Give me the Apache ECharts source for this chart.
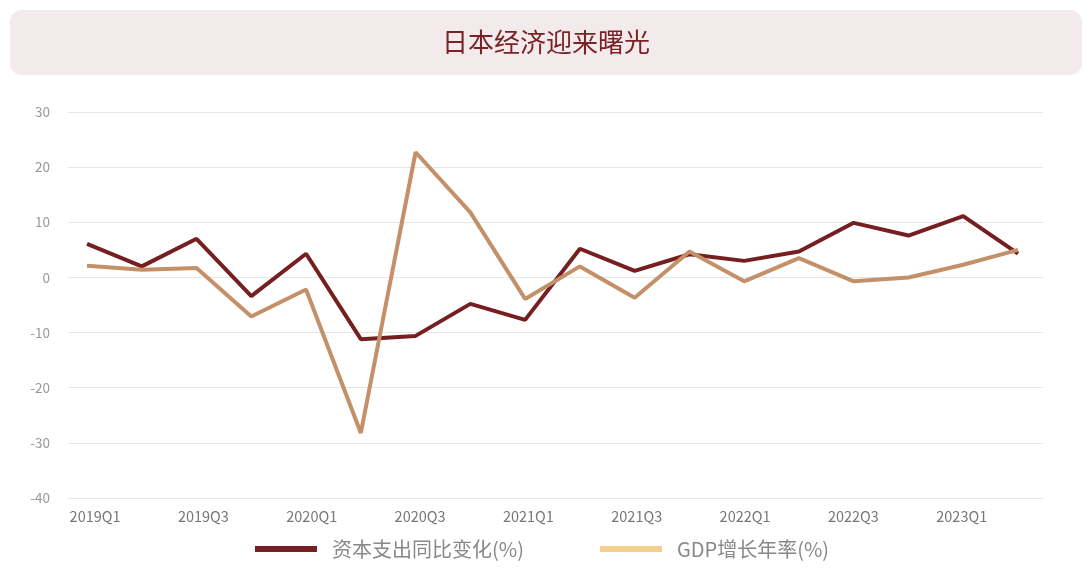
<!DOCTYPE html>
<html>
<head>
<meta charset="utf-8">
<script src="https://cdn.jsdelivr.net/npm/echarts@6/dist/echarts.min.js"></script>
<style>
  html, body { margin: 0; padding: 0; background: #fff; }
  #main { width: 1092px; height: 569px; }
</style>
</head>
<body>
<div id="main"></div>
<script>
// 季度
var quarters = ['2019Q1', '2019Q2', '2019Q3', '2019Q4', '2020Q1', '2020Q2', '2020Q3', '2020Q4',
  '2021Q1', '2021Q2', '2021Q3', '2021Q4', '2022Q1', '2022Q2', '2022Q3', '2022Q4', '2023Q1', '2023Q2'];
// 资本支出同比变化
var capex = [6.1, 2.0, 7.0, -3.4, 4.3, -11.2, -10.6, -4.8, -7.7, 5.2, 1.2, 4.2, 3.0, 4.7, 9.9, 7.6, 11.1, 4.3];
// GDP增长年率
var gdp = [2.1, 1.4, 1.7, -7.1, -2.2, -28.2, 22.7, 11.8, -3.9, 2.0, -3.7, 4.7, -0.7, 3.5, -0.7, 0.0, 2.3, 5.0];

var seriesNames = ['资本支出同比变化(%)', 'GDP增长年率(%)'];
var yMin = -40, yMax = 30, yStep = 10;

var font = '"Noto Sans CJK SC", "Noto Sans", sans-serif';
var myChart = echarts.init(document.getElementById('main'));

var option = {
	backgroundColor: '#fff',
	textStyle: { fontFamily: font },
	graphic: [{
		type: 'rect',
		left: 10, top: 10,
		shape: { width: 1072, height: 65, r: 12 },
		style: { fill: '#f3ebeb' },
		z: 0
	}],
	title: {
		text: '日本经济迎来曙光',
		left: 'center',
		top: 24,
		textStyle: { color: '#7a2326', fontSize: 26, fontWeight: 'normal', fontFamily: font }
	},
	legend: {
		left: 250,
		top: 534,
		icon: 'rect',
		itemWidth: 62,
		itemHeight: 6,
		itemGap: 76,
		textStyle: { color: '#888', fontSize: 20, padding: [0, 0, 0, 10], fontFamily: font },
		data: [
			{ name: seriesNames[0], itemStyle: { color: '#761f21' } },
			{ name: seriesNames[1], itemStyle: { color: '#f4cf90' } }
		]
	},
	grid: [
		{ left: 68, right: 49, top: 112, bottom: 71 },
		{ left: 87, right: 74, top: 112, bottom: 71 }
	],
	xAxis: [{
		type: 'category',
		gridIndex: 0,
		data: quarters,
		boundaryGap: true,
		axisLine: { show: false },
		axisTick: { show: false },
		axisLabel: { interval: 1, color: '#777', fontSize: 14.5, margin: 11 }
	}, {
		type: 'category',
		gridIndex: 1,
		data: quarters,
		boundaryGap: false,
		show: false
	}],
	yAxis: [{
		type: 'value',
		gridIndex: 0,
		min: yMin, max: yMax, interval: yStep,
		axisLine: { show: false },
		axisTick: { show: false },
		axisLabel: { color: '#999', fontSize: 13.5, margin: 18 },
		splitLine: { lineStyle: { color: '#e6e6e6', width: 1 } }
	}, {
		type: 'value',
		gridIndex: 1,
		min: yMin, max: yMax, interval: yStep,
		show: false,
		splitLine: { show: false }
	}],
	series: [{
		name: seriesNames[0],
		type: 'line',
		xAxisIndex: 1,
		yAxisIndex: 1,
		data: capex,
		showSymbol: false,
		lineStyle: { color: '#761f21', width: 4 },
		itemStyle: { color: '#761f21' },
		z: 3
	}, {
		name: seriesNames[1],
		type: 'line',
		xAxisIndex: 1,
		yAxisIndex: 1,
		data: gdp,
		showSymbol: false,
		lineStyle: { color: '#c49069', width: 4 },
		itemStyle: { color: '#c49069' },
		z: 4
	}]
};

myChart.setOption(option);
</script>
</body>
</html>
